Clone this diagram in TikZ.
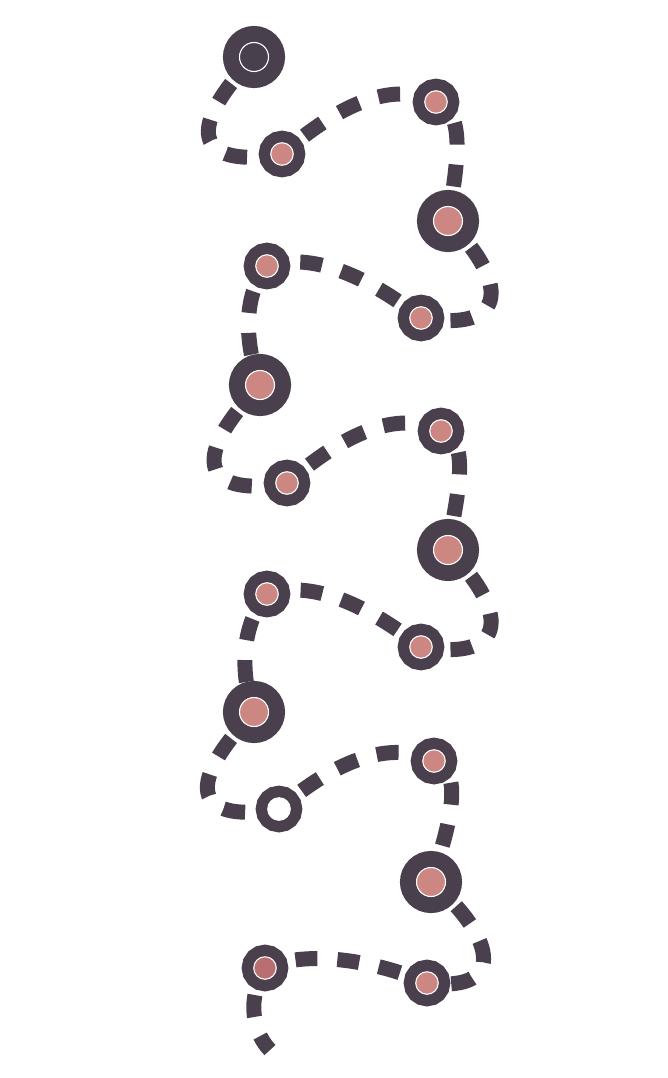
\documentclass[tikz,border=0pt]{standalone}
\usepackage{tikz}
\usetikzlibrary{backgrounds}

\definecolor{plum}{HTML}{4A3F4D}
\definecolor{rose}{HTML}{CD8782}
\definecolor{rosedark}{HTML}{B96E6F}

\begin{document}
\begin{tikzpicture}[
    x=1pt, y=-1pt,
    bigstop/.style={circle, inner sep=0, minimum size=29, fill=rose, draw=white,
                    line width=1.1, preaction={draw=plum, line width=33}},
    stop/.style={circle, inner sep=0, minimum size=22.5, fill=rose, draw=white,
                 line width=1.1, preaction={draw=plum, line width=24}},
    trail/.style={draw=plum, line width=15, dash pattern=on 22 off 20},
    offbig/.style={trail, dash phase=7},
    offsmall/.style={trail, dash phase=13}
]
\useasboundingbox (0,0) rectangle (668,1078);

% first bend
\node[bigstop, fill=plum] (s1)  at (254, 57)  {};
\node[stop]               (s2)  at (282,154)  {};
\node[stop]               (s3)  at (436,102)  {};
\node[bigstop]            (s4)  at (448,221)  {};
\node[stop]               (s5)  at (267,266)  {};
\node[stop]               (s6)  at (421,318)  {};
% second bend
\node[bigstop]            (s7)  at (260,385)  {};
\node[stop]               (s8)  at (287,483)  {};
\node[stop]               (s9)  at (441,431)  {};
\node[bigstop]            (s10) at (448,550)  {};
\node[stop]               (s11) at (267,594)  {};
\node[stop]               (s12) at (421,647)  {};
% third bend
\node[bigstop]            (s13) at (254,712)  {};
\node[stop, fill=white]   (s14) at (279,809)  {};
\node[stop]               (s15) at (434,761)  {};
\node[bigstop]            (s16) at (431,882)  {};
\node[stop, fill=rosedark] (s17) at (265,968) {};
\node[stop]               (s18) at (427,983)  {};
\coordinate (tail) at (270,1050);

\begin{scope}[on background layer]
\draw[offbig]   (s1.center)  .. controls +(-85,90)  and +(-65,12)  .. (s2.center);
\draw[offsmall] (s2.center)  .. controls +(45,-39)  and +(-50,-25) .. (s3.center);
\draw[offsmall] (s3.center)  .. controls +(30,10)   and +(10,-60)  .. (s4.center);
\draw[offbig]   (s4.center)  .. controls +(60,60)   and +(90,15)   .. (s6.center);
\draw[offsmall] (s6.center)  .. controls +(-45,-35) and +(50,-16)  .. (s5.center);
\draw[offsmall] (s5.center)  .. controls +(-25,30)  and +(-15,-40) .. (s7.center);

\draw[offbig]   (s7.center)  .. controls +(-85,90)  and +(-65,12)  .. (s8.center);
\draw[offsmall] (s8.center)  .. controls +(45,-39)  and +(-50,-25) .. (s9.center);
\draw[offsmall] (s9.center)  .. controls +(30,10)   and +(10,-60)  .. (s10.center);
\draw[offbig]   (s10.center) .. controls +(60,60)   and +(90,15)   .. (s12.center);
\draw[offsmall] (s12.center) .. controls +(-45,-35) and +(50,-16)  .. (s11.center);
\draw[offsmall] (s11.center) .. controls +(-25,30)  and +(-15,-40) .. (s13.center);

\draw[offbig]   (s13.center) .. controls +(-85,90)  and +(-65,12)  .. (s14.center);
\draw[offsmall] (s14.center) .. controls +(45,-39)  and +(-50,-25) .. (s15.center);
\draw[offsmall] (s15.center) .. controls +(30,10)   and +(20,-60)  .. (s16.center);
\draw[offbig]   (s16.center) .. controls +(60,50)   and +(85,10)   .. (s18.center);
\draw[offsmall] (s18.center) .. controls +(-45,-20) and +(45,-20)  .. (s17.center);
\draw[offsmall] (s17.center) .. controls +(-20,35)  and +(-15,-15) .. (tail);
\end{scope}
\end{tikzpicture}
\end{document}
